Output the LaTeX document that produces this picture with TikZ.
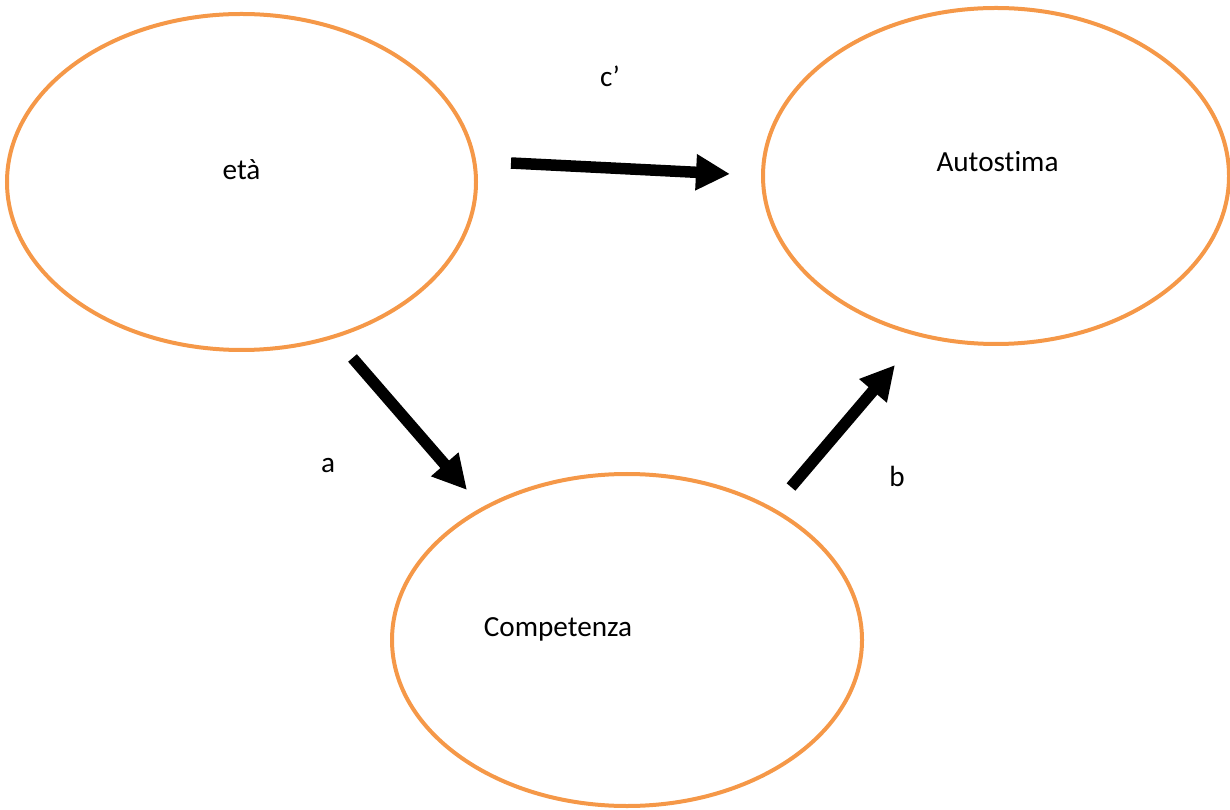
\documentclass[tikz,border=0pt]{standalone}
\usepackage{fontspec}
\setmainfont{Carlito}[Ligatures=NoCommon]
\usetikzlibrary{arrows.meta,positioning,shapes.geometric}
\definecolor{arancio}{RGB}{245,152,72}
\tikzset{
    %Define style for ellipses
    variabile/.style={
           ellipse,
           draw=arancio,
           line width=4pt,
           inner sep=0pt},
    %Define style for texts
    testo/.style={
           font=\fontsize{29.2}{35}\selectfont,
           inner sep=0pt,
           text centered},
    % Define arrow style
    freccia/.style={
           -{Triangle[length=34pt,width=34pt]},
           line width=11.5pt,
           draw=black}
}
\begin{document}
\begin{tikzpicture}[x=1pt,y=1pt]
\useasboundingbox (0,0) rectangle (1230,809);
\node[variabile, minimum width=469pt, minimum height=336pt](eta) at (241.5,627){};
\node[variabile, minimum width=466pt, minimum height=336pt](autostima) at (996,633){};
\node[variabile, minimum width=470pt, minimum height=332pt](competenza) at (627,169){};

\node[testo](t1) at (241.5,639){età};
\node[testo](t2) at (997.5,647){Autostima};
\node[testo](t3) at (558,180){Competenza};
\node[testo](c) at (610,733){c’};
\node[testo](a) at (328,343){a};
\node[testo](b) at (897,333){b};

\draw[freccia] ([xshift=33pt,yshift=19pt]eta.east) -- ([xshift=-31pt,yshift=2pt]autostima.west);
\draw[freccia] ([xshift=111pt,yshift=-6pt]eta.south) -- ([xshift=-160pt,yshift=-18pt]competenza.north);
\draw[freccia] ([xshift=164pt,yshift=-15pt]competenza.north) -- ([xshift=-101pt,yshift=-19pt]autostima.south);
\end{tikzpicture}
\end{document}
